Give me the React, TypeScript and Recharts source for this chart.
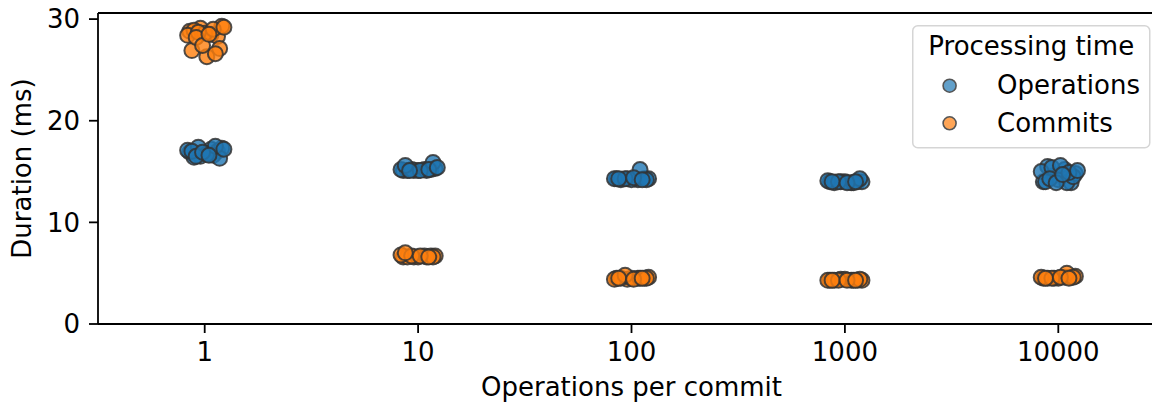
import { ScatterChart, Scatter, XAxis, YAxis, ReferenceLine, Legend } from "recharts";

const categories = ["1", "10", "100", "1000", "10000"];

// per-category durations (ms), one list per category
const operations: number[][] = [
  [16.9, 17.2, 16.5, 17.0, 16.4, 17.3, 16.8, 17.1, 16.6, 17.4, 16.3, 17.0, 16.7, 17.5, 16.5, 17.2, 16.9, 16.6],
  [15.1, 15.2, 15.1, 15.2, 15.1, 15.3, 15.1, 15.2, 15.1, 15.2, 15.9, 15.6, 15.1, 15.2, 15.1, 15.4],
  [14.3, 14.2, 14.3, 14.3, 14.2, 14.3, 14.2, 14.3, 15.2, 14.3, 14.2, 14.3, 14.4, 14.2],
  [14.0, 13.9, 14.0, 14.0, 13.9, 14.0, 14.0, 14.1, 13.9, 14.0, 14.3, 14.0, 13.9, 14.0],
  [14.0, 15.2, 14.6, 13.9, 15.5, 14.8, 14.2, 15.0, 13.9, 15.4, 14.5, 14.0, 15.6, 14.9, 14.3, 15.1, 13.9, 14.7],
];

const commits: number[][] = [
  [28.8, 28.5, 29.1, 28.3, 28.9, 29.3, 28.6, 28.4, 29.0, 28.7, 27.1, 26.9, 26.3, 26.6, 28.2, 29.2, 27.4, 28.5],
  [6.6, 6.7, 6.6, 6.7, 6.6, 6.7, 6.6, 6.8, 6.6, 6.7, 6.6, 7.0, 6.7, 6.6],
  [4.5, 4.5, 4.4, 4.5, 4.5, 4.6, 4.5, 4.4, 4.5, 4.8, 4.5, 4.5, 4.4, 4.5],
  [4.3, 4.3, 4.4, 4.3, 4.3, 4.3, 4.4, 4.3, 4.3, 4.3, 4.4, 4.3, 4.3, 4.3],
  [4.5, 4.6, 4.5, 4.6, 4.5, 4.7, 4.5, 4.6, 5.0, 4.5, 4.6, 4.5, 4.6, 4.5],
];

// strip-plot jitter offsets (category units)
const jitter = [-0.07, 0.03, -0.02, 0.06, -0.05, 0.08, 0.0, -0.08, 0.04, -0.03, 0.07, -0.06, 0.01, 0.05, -0.04, 0.09, -0.01, 0.02];

const yTicks = [0, 10, 20, 30];

const series = [
  { name: "Operations", color: "#1f77b4", values: operations },
  { name: "Commits", color: "#ff7f0e", values: commits },
];

const FONT = "'DejaVu Sans', sans-serif";
const FS = 26;

const toPoints = (values: number[][]) =>
  values.flatMap((list, ci) => list.map((y, i) => ({ x: ci + jitter[i % jitter.length], y })));

function Dot(props: any) {
  const { cx, cy, fill } = props;
  return (
    <circle cx={cx} cy={cy} r={7.5} fill={fill} fillOpacity={0.8} stroke="#333" strokeOpacity={0.85} strokeWidth={2} />
  );
}

function LegendBox() {
  return (
    <svg width={240} height={125} style={{ display: "block" }}>
      <rect x={0.75} y={0.75} width={237} height={122} rx={5} fill="#fff" fillOpacity={0.8} stroke="#d5d5d5" strokeWidth={1.5} />
      <text x={16.3} y={30} fontSize={FS} fontFamily={FONT} fill="#000">
        Processing time
      </text>
      {series.map((s, i) => (
        <g key={s.name}>
          <circle cx={37.6} cy={60.7 + i * 37.6} r={6.5} fill={s.color} fillOpacity={0.7} stroke="#555" strokeWidth={1.6} />
          <text x={85} y={69.3 + i * 37.7} fontSize={FS} fontFamily={FONT} fill="#000">
            {s.name}
          </text>
        </g>
      ))}
    </svg>
  );
}

export default function App() {
  return (
    <div style={{ position: "absolute", left: 0, top: 0, width: 1152, height: 407, overflow: "hidden", background: "#fff" }}>
      <ScatterChart width={1180} height={407} margin={{ top: 13, right: 15, bottom: 0, left: 0 }}>
        <XAxis
          type="number"
          dataKey="x"
          domain={[-0.5, 4.5]}
          ticks={[0, 1, 2, 3, 4]}
          tickFormatter={(v: number) => categories[v]}
          allowDataOverflow
          height={83}
          tickSize={9}
          tickMargin={10}
          axisLine={{ stroke: "#000", strokeWidth: 1.8 }}
          tickLine={{ stroke: "#000", strokeWidth: 1.8 }}
          tick={{ fill: "#000", fontSize: FS, fontFamily: FONT }}
          label={{
            content: (p: any) => (
              <text x={p.viewBox.x + p.viewBox.width / 2} y={396} textAnchor="middle" fontSize={FS} fontFamily={FONT} fill="#000">
                Operations per commit
              </text>
            ),
          }}
        />
        <YAxis
          type="number"
          dataKey="y"
          domain={[0, 30.6]}
          ticks={yTicks}
          allowDataOverflow
          width={98}
          tickSize={9}
          tickMargin={9}
          axisLine={{ stroke: "#000", strokeWidth: 1.8 }}
          tickLine={{ stroke: "#000", strokeWidth: 1.8 }}
          tick={{ fill: "#000", fontSize: FS, fontFamily: FONT }}
          label={{
            content: () => (
              <text x={31} y={168.5} transform="rotate(-90, 31, 168.5)" textAnchor="middle" fontSize={FS} fontFamily={FONT} fill="#000">
                Duration (ms)
              </text>
            ),
          }}
        />
        <ReferenceLine y={30.6} stroke="#000" strokeWidth={1.8} ifOverflow="extendDomain" />
        <Legend
          layout="vertical"
          align="center"
          verticalAlign="middle"
          wrapperStyle={{ left: 911.7, top: 25, width: 240 }}
          content={() => <LegendBox />}
        />
        {series.map((s) => (
          <Scatter
            key={s.name}
            name={s.name}
            data={toPoints(s.values)}
            fill={s.color}
            shape={<Dot />}
            isAnimationActive={false}
          />
        ))}
      </ScatterChart>
    </div>
  );
}
